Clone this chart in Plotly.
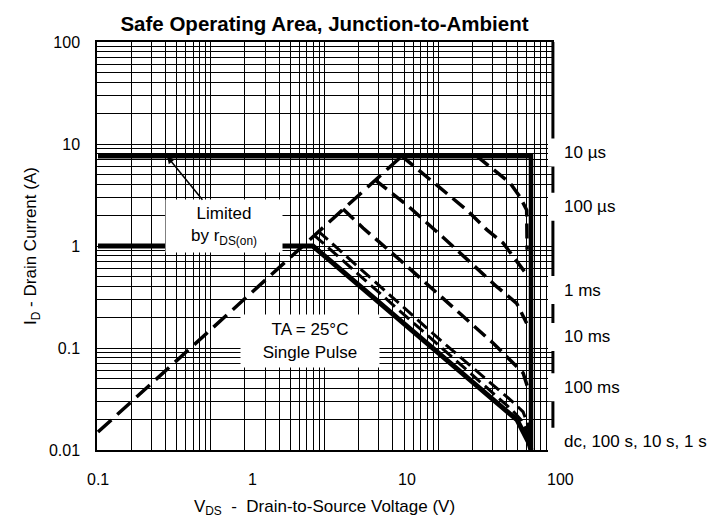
import math
import plotly.graph_objects as go

# ---------------- data ----------------
x_tick_values = [0.1, 1, 10, 100]
x_tick_labels = ["0.1", "1", "10", "100"]
y_tick_values = [0.01, 0.1, 1, 10, 100]
y_tick_labels = ["0.01", "0.1", "1", "10", "100"]

# pulsed current limit + breakdown voltage boundary (10 µs)
limit_v = [0.1, 64.0, 64.0]
limit_i = [7.6, 7.6, 0.01]

# rDS(on) limit line
rds_v = [0.1, 9.3]
rds_i = [0.015, 7.6]

us100_v = [28.5, 34.7, 46.8, 54.4, 60.0, 60.4]
us100_i = [7.6, 5.96, 4.15, 3.02, 2.25, 0.92]

ms1_v = [9.3, 17.2, 24.6, 33.2, 42.2, 60.3]
ms1_i = [7.6, 3.54, 2.25, 1.44, 1.07, 0.52]

ms10_v = [6.24, 10.06, 17.2, 29.9, 38.4, 51.7, 60.0]
ms10_i = [4.44, 2.52, 1.22, 0.56, 0.399, 0.274, 0.175]

ms100_v = [3.87, 5.22, 9.06, 18.3, 36.3, 56.9, 60.8]
ms100_i = [2.31, 1.50, 0.729, 0.284, 0.112, 0.0569, 0.0415]

s10_v = [2.67, 16.5, 49.7, 56.9, 61.2, 63.0]
s10_i = [1.40, 0.120, 0.0289, 0.0236, 0.0176, 0.0125]

s1_v = [2.51, 16.5, 48.2, 55.1, 60.3, 62.6]
s1_i = [1.28, 0.102, 0.0247, 0.0197, 0.0150, 0.0109]

dc_v = [0.1, 2.47, 52.0, 57.7, 62.1, 64.0]
dc_i = [1.0, 1.0, 0.0197, 0.0150, 0.0117, 0.01]

curve_labels = ["10 µs", "100 µs", "1 ms", "10 ms", "100 ms", "dc, 100 s, 10 s, 1 s"]
curve_label_y = [0.729, 0.596, 0.392, 0.277, 0.154, 0.020]   # paper positions of right labels

# ---------------- layout constants ----------------
W, H = 718, 523
ML, MR, MT, MB = 97, 166, 42, 73
PW, PH = W - ML - MR, H - MT - MB
XMIN, XMAX = -1.0065, 1.9423          # log10 range of the labelled V axis
FONT = "Liberation Sans, Arial, Helvetica, sans-serif"

fig = go.Figure()

def add_line(vx, vy, width, dash="solid"):
    fig.add_trace(go.Scatter(x=vx, y=vy, mode="lines", hoverinfo="skip",
                             line=dict(color="black", width=width, dash=dash)))

add_line(rds_v, rds_i, 3.5, "18px,8px")
add_line(us100_v, us100_i, 3.5, "15px,7px")
add_line(ms1_v, ms1_i, 3.5, "15px,7px")
add_line(ms10_v, ms10_i, 3.5, "15px,7px")
add_line(ms100_v, ms100_i, 3.5, "15px,7px")
add_line(s10_v, s10_i, 3.0, "13px,6px")
add_line(s1_v, s1_i, 3.0, "13px,6px")
add_line(dc_v, dc_i, 5.0)
add_line(limit_v, limit_i, 4.5)

# The printed log grid paper has 4 decades across the width (independent of the V labels)
def paper_to_v(frac):
    return 10 ** (XMIN + frac * (XMAX - XMIN))

grid_major_x = [paper_to_v(d / 4) for d in range(0, 5)]
grid_minor_x = [paper_to_v((d + math.log10(k)) / 4) for d in range(0, 4) for k in range(2, 10)]
grid_minor_y = [k * 10.0 ** d for d in range(-2, 2) for k in range(2, 10)]

fig.update_layout(
    width=W, height=H,
    margin=dict(l=ML, r=MR, t=MT, b=MB),
    paper_bgcolor="white", plot_bgcolor="white",
    showlegend=False,
    font=dict(family=FONT, size=17, color="black"),
    title=dict(text="<b>Safe Operating Area, Junction-to-Ambient</b>",
               x=0.5, xref="paper", xanchor="center",
               y=1 - 24 / H, yref="container", yanchor="middle",
               font=dict(size=20.5, family=FONT, color="black")),
    xaxis=dict(type="log", range=[XMIN, XMAX],
               tickvals=grid_major_x, showticklabels=False, ticks="",
               showgrid=True, gridcolor="black", gridwidth=1,
               minor=dict(tickvals=grid_minor_x, showgrid=True, gridcolor="black",
                          gridwidth=1, ticks=""),
               zeroline=False, showline=True, linecolor="black",
               linewidth=1.5, mirror=True,
               title=dict(text="V<sub>DS</sub>  -  Drain-to-Source Voltage (V)",
                          standoff=49, font=dict(size=17))),
    yaxis=dict(type="log", range=[-2, 2], tickvals=y_tick_values, ticktext=y_tick_labels,
               ticks="", showgrid=True, gridcolor="black", gridwidth=1,
               minor=dict(tickvals=grid_minor_y, showgrid=True, gridcolor="black",
                          gridwidth=1, ticks=""),
               zeroline=False, showline=True, linecolor="black", linewidth=1.5,
               mirror=True, ticklabelstandoff=12, tickfont=dict(size=16),
               title=dict(text="I<sub>D</sub> - Drain Current (A)", standoff=8,
                          font=dict(size=17))),
)

# x tick labels (the '100' label sits just outside the plotted range)
for v, lab in zip(x_tick_values, x_tick_labels):
    fig.add_annotation(x=(math.log10(v) - XMIN) / (XMAX - XMIN), xref="paper",
                       y=-29 / PH, yref="paper", text=lab, showarrow=False,
                       xanchor="center", yanchor="middle", font=dict(size=16))

# thick right frame
fig.add_shape(type="line", xref="paper", yref="paper", x0=1.002, x1=1.002, y0=0, y1=1,
              line=dict(color="black", width=3))

# right-side curve labels, each on a white patch that hides the frame edge
box_x0 = (548 - ML) / PW
box_x1 = (W - ML) / PW
text_x = (562 - ML) / PW
half_h = 14 / PH
for lab, yp in zip(curve_labels, curve_label_y):
    fig.add_shape(type="rect", xref="paper", yref="paper",
                  x0=box_x0, x1=box_x1, y0=yp - half_h, y1=yp + half_h,
                  fillcolor="white", line=dict(width=0), layer="above")
    fig.add_annotation(x=text_x, xref="paper", y=yp, yref="paper",
                       text=lab, showarrow=False,
                       xanchor="left", yanchor="middle", align="left",
                       font=dict(size=17))

# Limited by rDS(on) note with arrow
fig.add_annotation(x=math.log10(0.28), y=math.log10(7.6), xref="x", yref="y",
                   text="Limited<br>by r<sub>DS(on)</sub>", showarrow=True,
                   ax=57, ay=70, arrowhead=2, arrowsize=1, arrowwidth=1.5,
                   arrowcolor="black", bgcolor="white", width=114, height=50,
                   font=dict(size=17))

# TA note
fig.add_annotation(x=(240 - ML) / PW, y=(450 - 368) / PH,
                   xref="paper", yref="paper",
                   text="TA = 25°C<br>Single Pulse", showarrow=False,
                   bgcolor="white", width=136, height=50, font=dict(size=17))

fig.write_html("out.html", config={"displayModeBar": False},
               post_script="document.body.style.margin='0px';document.body.style.overflow='hidden';")
